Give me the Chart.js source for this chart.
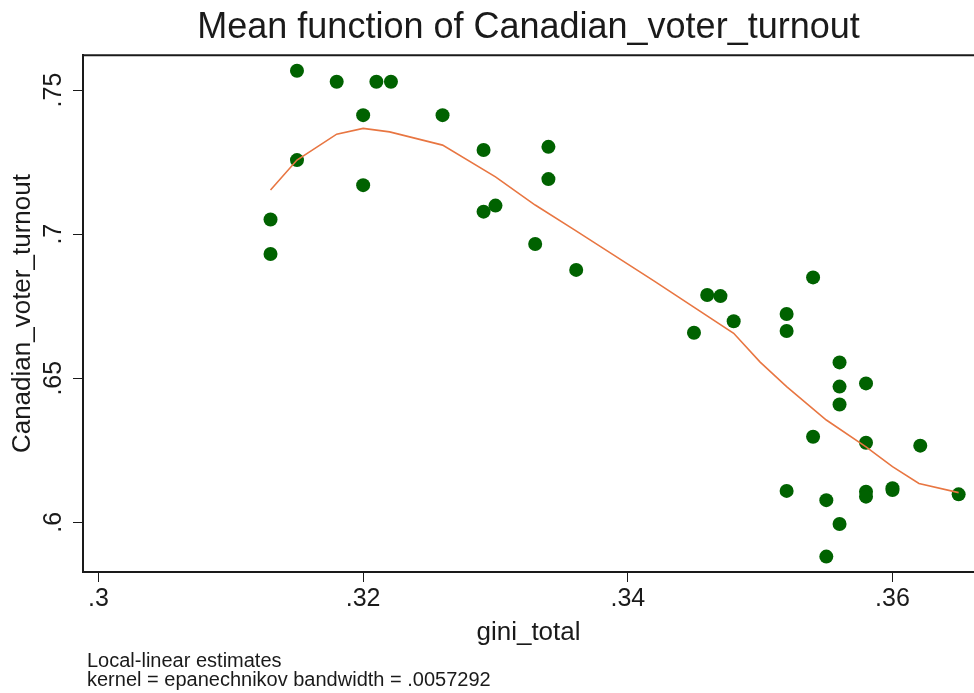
<!DOCTYPE html>
<html>
<head>
<meta charset="utf-8">
<script src="https://cdn.jsdelivr.net/npm/chart.js@4.4.1/dist/chart.umd.min.js"></script>
<style>
  html, body { margin: 0; padding: 0; background: #fff; }
</style>
</head>
<body>
<canvas id="chart" width="974" height="693"></canvas>
<script>
// observed points
const giniTotal = [
  0.3130, 0.3130, 0.3150, 0.3150, 0.3180, 0.3200, 0.3200, 0.3210, 0.3221, 0.3260,
  0.3291, 0.3291, 0.3300, 0.3330, 0.3340, 0.3340, 0.3361, 0.3450, 0.3460, 0.3470,
  0.3480, 0.3520, 0.3520, 0.3520, 0.3540, 0.3540, 0.3550, 0.3550, 0.3560, 0.3560,
  0.3560, 0.3560, 0.3580, 0.3580, 0.3580, 0.3580, 0.3600, 0.3600, 0.3621, 0.3650
];
const voterTurnout = [
  0.7051, 0.6931, 0.7567, 0.7257, 0.7529, 0.7413, 0.7170, 0.7529, 0.7529, 0.7413,
  0.7292, 0.7078, 0.7099, 0.6966, 0.7303, 0.7191, 0.6876, 0.6658, 0.6789, 0.6785,
  0.6698, 0.6723, 0.6664, 0.6109, 0.6850, 0.6297, 0.6077, 0.5881, 0.6555, 0.6471,
  0.6409, 0.5994, 0.6482, 0.6276, 0.6106, 0.6089, 0.6118, 0.6112, 0.6266, 0.6097
];

// local-linear fit
const fitX = [0.313, 0.315, 0.318, 0.320, 0.322, 0.326, 0.330, 0.333, 0.336, 0.342,
              0.348, 0.350, 0.352, 0.355, 0.358, 0.360, 0.362, 0.365];
const fitY = [0.7153, 0.7257, 0.7347, 0.7367, 0.7355, 0.7309, 0.7199, 0.7101, 0.7014, 0.6837,
              0.6656, 0.6556, 0.6471, 0.6355, 0.6262, 0.6193, 0.6135, 0.6103];

const xTicks = [0.3, 0.32, 0.34, 0.36];
const yTicks = [0.6, 0.65, 0.7, 0.75];
const noteLines = ['Local-linear estimates', 'kernel = epanechnikov bandwidth = .0057292'];

const fontFamily = '"Liberation Sans", Arial, sans-serif';
const ink = '#1a1a1a';

// stata style: .32 instead of 0.32
const stataLabel = value => String(value).replace(/^0\./, '.');

const topBorder = {
  id: 'topBorder',
  afterDraw(chart) {
    const { ctx, chartArea } = chart;
    ctx.save();
    ctx.strokeStyle = ink;
    ctx.lineWidth = 2;
    ctx.beginPath();
    ctx.moveTo(chartArea.left, chartArea.top);
    ctx.lineTo(chartArea.right, chartArea.top);
    ctx.stroke();
    ctx.restore();
  }
};

const note = {
  id: 'note',
  afterDraw(chart) {
    const ctx = chart.ctx;
    ctx.save();
    ctx.fillStyle = ink;
    ctx.font = '20px ' + fontFamily;
    ctx.textBaseline = 'middle';
    noteLines.forEach((line, i) => ctx.fillText(line, 87, 661 + i * 19.5));
    ctx.restore();
  }
};

new Chart(document.getElementById('chart'), {
  type: 'scatter',
  data: {
    datasets: [
      {
        type: 'line',
        label: 'Local-linear fit',
        data: fitX.map((x, i) => ({ x, y: fitY[i] })),
        borderColor: 'rgb(232, 118, 66)',
        borderWidth: 1.6,
        pointRadius: 0,
        tension: 0,
        fill: false,
        order: 1
      },
      {
        label: 'Canadian_voter_turnout',
        data: giniTotal.map((x, i) => ({ x, y: voterTurnout[i] })),
        backgroundColor: 'rgb(0, 98, 0)',
        borderWidth: 0,
        pointRadius: 7,
        order: 2
      }
    ]
  },
  options: {
    responsive: false,
    animation: false,
    devicePixelRatio: 1,
    layout: {
      autoPadding: false,
      padding: { left: 0, right: 0, top: 0, bottom: 41 }
    },
    plugins: {
      legend: { display: false },
      tooltip: { enabled: false },
      title: {
        display: true,
        text: 'Mean function of Canadian_voter_turnout',
        color: ink,
        fullSize: false,
        font: { family: fontFamily, size: 36, weight: 'normal' },
        padding: { top: 6, bottom: 6 }
      }
    },
    scales: {
      x: {
        type: 'linear',
        min: 0.29883,
        max: 0.36616,
        afterBuildTicks: scale => { scale.ticks = xTicks.map(value => ({ value })); },
        afterFit: scale => { scale.height = 80; },
        ticks: {
          callback: stataLabel,
          color: ink,
          font: { family: fontFamily, size: 25 },
          padding: 2,
          maxRotation: 0,
          autoSkip: false
        },
        grid: { drawOnChartArea: false, drawTicks: true, tickLength: 10, color: ink, tickWidth: 1 },
        border: { color: ink, width: 2 },
        title: {
          display: true,
          text: 'gini_total',
          color: ink,
          font: { family: fontFamily, size: 26 },
          padding: { top: 0, bottom: 4 }
        }
      },
      y: {
        type: 'linear',
        min: 0.58276,
        max: 0.7621,
        afterBuildTicks: scale => { scale.ticks = yTicks.map(value => ({ value })); },
        afterFit: scale => { scale.width = 83; },
        ticks: {
          callback: stataLabel,
          color: ink,
          font: { family: fontFamily, size: 25 },
          minRotation: 90,
          maxRotation: 90,
          crossAlign: 'center',
          padding: 2,
          autoSkip: false
        },
        grid: { drawOnChartArea: false, drawTicks: true, tickLength: 10, color: ink, tickWidth: 1 },
        border: { color: ink, width: 2 },
        title: {
          display: true,
          text: 'Canadian_voter_turnout',
          color: ink,
          font: { family: fontFamily, size: 26 },
          padding: { top: 7, bottom: 0 }
        }
      }
    }
  },
  plugins: [topBorder, note]
});
</script>
</body>
</html>
